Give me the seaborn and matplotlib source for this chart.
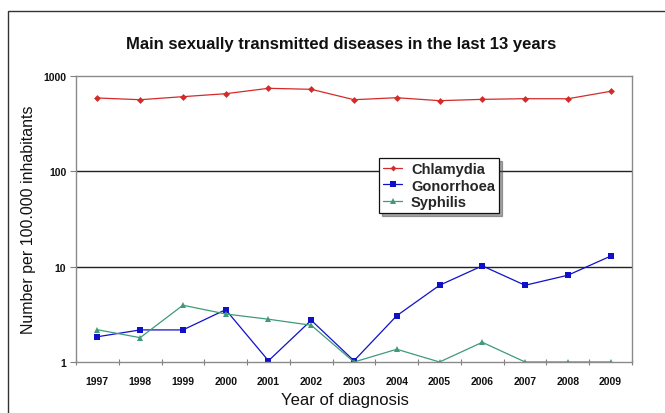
import matplotlib
matplotlib.use("Agg")
import matplotlib.pyplot as plt
import matplotlib.patches as mpatches
from matplotlib.lines import Line2D
from matplotlib.ticker import FixedLocator, NullFormatter, FixedFormatter
import seaborn as sns
import pandas as pd
import numpy as np

years = ["1997", "1998", "1999", "2000", "2001", "2002", "2003",
         "2004", "2005", "2006", "2007", "2008", "2009"]
chlamydia = [588, 564, 607, 652, 743, 725, 564, 592, 551, 569, 578, 577, 691]
gonorrhoea = [1.84, 2.17, 2.17, 3.54, 1.03, 2.74, 1.03, 3.06, 6.38, 10.2, 6.38, 8.13, 12.9]
syphilis = [2.18, 1.80, 3.94, 3.19, 2.81, 2.43, 1.0, 1.36, 1.0, 1.61, 1.0, 1.0, 1.0]

series = {"Chlamydia": chlamydia, "Gonorrhoea": gonorrhoea, "Syphilis": syphilis}
df = pd.concat(
    [pd.DataFrame({"pos": np.arange(len(years)), "value": v, "disease": k})
     for k, v in series.items()],
    ignore_index=True,
)

sns.set_theme(style="white")
plt.rcParams["font.family"] = ["Liberation Sans", "DejaVu Sans"]

fig = plt.figure(figsize=(6.65, 4.14), dpi=100)
ax = fig.add_axes([76 / 665, 1 - 363 / 414, (632 - 76) / 665, (363 - 77) / 414])

palette = {"Chlamydia": "#d42a2a", "Gonorrhoea": "#1010c8", "Syphilis": "#3f9a78"}
markers = {"Chlamydia": "D", "Gonorrhoea": "s", "Syphilis": "^"}
sizes_m = {"Chlamydia": 3.5, "Gonorrhoea": 5, "Syphilis": 4.5}

sns.lineplot(data=df, x="pos", y="value", hue="disease", style="disease",
             palette=palette, markers=markers, dashes=False, linewidth=0.9,
             markeredgewidth=0, ax=ax, legend=False)
for line, name in zip(ax.get_lines(), series):
    line.set_markersize(sizes_m[name])

ax.set_yscale("log")
ax.set_ylim(1, 1000)
ax.set_xlim(-0.5, len(years) - 0.5)

# gridlines at 10 and 100
for g in (10, 100):
    ax.axhline(g, color="#222222", linewidth=1.0, zorder=0)

ax.yaxis.set_major_locator(FixedLocator([1, 10, 100, 1000]))
ax.yaxis.set_major_formatter(FixedFormatter(["1", "10", "100", "1000"]))
ax.yaxis.set_minor_locator(FixedLocator([]))
ax.tick_params(axis="y", which="major", left=True, length=4, width=0.8,
               color="#808080", labelsize=7.5, pad=3)

ax.xaxis.set_major_locator(FixedLocator(np.arange(len(years))))
ax.xaxis.set_major_formatter(FixedFormatter(years))
ax.xaxis.set_minor_locator(FixedLocator(np.arange(len(years) + 1) - 0.5))
ax.xaxis.set_minor_formatter(NullFormatter())
ax.tick_params(axis="x", which="major", bottom=True, length=0, labelsize=7.5, pad=10)
ax.tick_params(axis="x", which="minor", bottom=True, length=4, width=0.8,
               color="#808080", direction="inout")

for lbl in ax.get_xticklabels() + ax.get_yticklabels():
    lbl.set_fontweight("bold")
    lbl.set_color("#111111")

for s in ax.spines.values():
    s.set_color("#8a8a8a")
    s.set_linewidth(1.0)

ax.set_xlabel("Year of diagnosis", fontsize=12, color="#111111", va="center")
ax.set_ylabel("Number per 100.000 inhabitants", fontsize=11.5, color="#111111", va="center")
ax.xaxis.set_label_coords((345 - 76) / 556, -(401 - 363) / 286)
ax.yaxis.set_label_coords(-(76 - 29) / 556, 0.5)

handles = [
    Line2D([], [], color=palette[k], marker=markers[k],
           markersize=sizes_m[k] - 0.5, linewidth=0.9,
           markeredgewidth=0, label=k)
    for k in series
]
leg = ax.legend(handles=handles, loc="upper left",
                bbox_to_anchor=((379 - 76) / 556, 1 - (159 - 77) / 286),
                frameon=True, fancybox=False, shadow=True,
                prop={"weight": "bold", "size": 10.5}, handlelength=1.3,
                handletextpad=0.6, borderpad=0.3, labelspacing=0.15,
                borderaxespad=0)
leg.get_frame().set_edgecolor("#111111")
leg.get_frame().set_linewidth(0.9)

fig.text(341 / 665, 1 - 44 / 414, "Main sexually transmitted diseases in the last 13 years",
         ha="center", va="center", fontsize=12, fontweight="bold", color="#111111")

# outer chart frame
fig.patches.append(mpatches.Rectangle((8 / 665, -0.1), 1.2, 1 - 12 / 414 + 0.1,
                                      transform=fig.transFigure, fill=False,
                                      edgecolor="#333333", linewidth=1.0))

fig.savefig("out.png", dpi=100)
